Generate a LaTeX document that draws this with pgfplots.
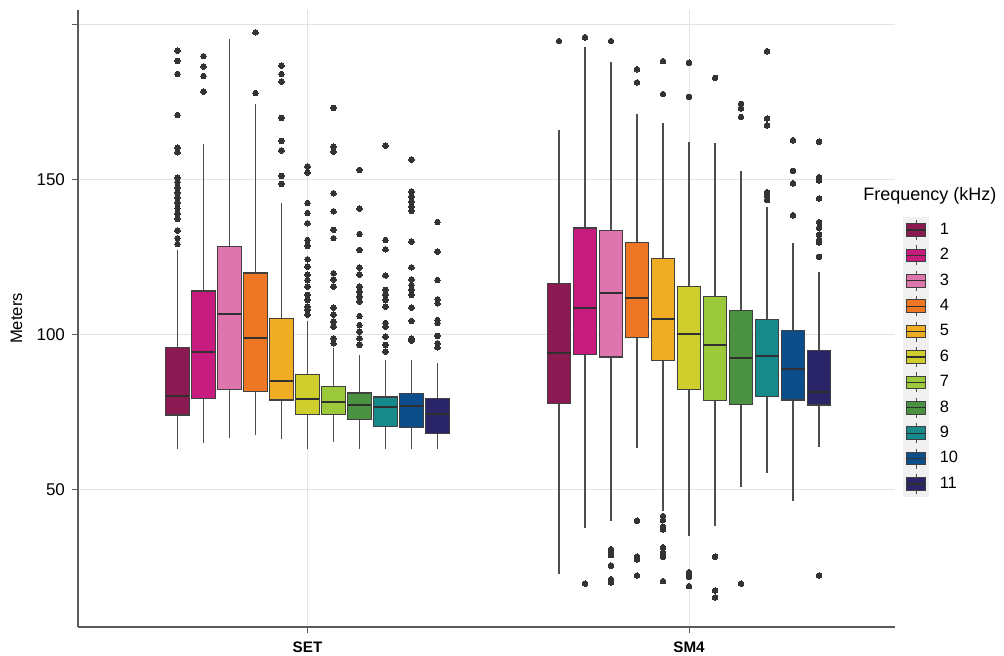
\documentclass[border=0pt]{standalone}
\usepackage{fontspec}
\setmainfont{Liberation Sans}
\usepackage{pgfplots}
\pgfplotsset{compat=1.18}
\definecolor{c1}{HTML}{8C1A52}
\definecolor{c2}{HTML}{C71C7D}
\definecolor{c3}{HTML}{DE75AC}
\definecolor{c4}{HTML}{EE7725}
\definecolor{c5}{HTML}{EEAD22}
\definecolor{c6}{HTML}{CECE2D}
\definecolor{c7}{HTML}{9CC93C}
\definecolor{c8}{HTML}{4A9141}
\definecolor{c9}{HTML}{168A8A}
\definecolor{c10}{HTML}{0C4D8C}
\definecolor{c11}{HTML}{2A2468}
\definecolor{boxedge}{HTML}{404040}
\definecolor{whiskcol}{HTML}{4D4D4D}
\definecolor{medcol}{HTML}{303030}
\definecolor{outl}{HTML}{333333}
\definecolor{gridcol}{HTML}{E3E3E3}
\definecolor{axcol}{HTML}{5A5A5A}
\definecolor{legbg}{HTML}{F0F0F0}
\pgfplotsset{
  boxleg/.style={legend image code/.code={
    \fill[legbg] (-1.5pt,-6.15pt) rectangle (11.2pt,6.15pt);
    \draw[whiskcol, line width=0.4pt] (4.85pt,-5pt) -- (4.85pt,5pt);
    \filldraw[fill=#1, draw=boxedge, line width=0.5pt] (0pt,-3.15pt) rectangle (9.7pt,3.15pt);
    \draw[medcol, line width=0.6pt] (0pt,0pt) -- (9.7pt,0pt);
  }}
}
% box: colour, position, lower whisker, lower quartile, median, upper quartile, upper whisker
\newcommand\bx[7]{%
  \pgfmathsetmacro\xl{#2-0.031}\pgfmathsetmacro\xr{#2+0.031}%
  \edef\tmp{%
    \noexpand\addplot[forget plot, draw=whiskcol, line width=0.6pt] coordinates {(#2,#3) (#2,#4)};
    \noexpand\addplot[forget plot, draw=whiskcol, line width=0.6pt] coordinates {(#2,#6) (#2,#7)};
    \noexpand\addplot[forget plot, draw=boxedge, fill=#1, line width=0.6pt] coordinates {(\xl,#4) (\xr,#4) (\xr,#6) (\xl,#6)} --cycle;
    \noexpand\addplot[forget plot, draw=medcol, line width=1pt] coordinates {(\xl,#5) (\xr,#5)};
  }\tmp}
% outliers: position, values
\newcommand\outl[2]{\addplot[forget plot, only marks, mark=*, mark size=1.4pt, mark options={draw=outl, fill=outl, line width=0pt}] table[row sep=\\, x expr=#1, y index=0] {#2};}
\begin{document}
\begin{tikzpicture}
\useasboundingbox (-39pt,-14.5pt) rectangle (463pt,313.5pt);
\begin{axis}[
  scale only axis, width=408.5pt, height=308.5pt,
  xmin=0.3984, xmax=2.540, ymin=5.81, ymax=204.8,
  axis x line=bottom, axis y line=left,
  axis line style={-, draw=axcol, line width=0.6pt},
  xtick={1,2}, xticklabels={SET,SM4},
  ytick={50,100,150,200}, yticklabels={50,100,150,{}},
  grid=major, grid style={draw=gridcol, line width=0.5pt},
  tick align=outside, major tick length=3pt,
  tick style={draw=axcol, line width=0.5pt},
  /pgf/number format/assume math mode=true,
  y tick label style={font=\fontsize{8.5}{10}\selectfont},
  x tick label style={font=\bfseries\fontsize{7.6}{9}\selectfont, yshift=-1pt},
  ylabel={Meters},
  every axis y label/.style={at={(axis description cs:0,0.5)}, xshift=-30.75pt, rotate=90, anchor=center, font=\fontsize{8.3}{10}\selectfont},
  legend cell align=left,
  legend style={at={(axis description cs:1.0098,0.6639)}, anchor=north west, draw=none, fill=none, inner sep=0pt, outer sep=0pt, row sep=0pt, font=\fontsize{8.2}{9}\selectfont, nodes={inner sep=0pt}, /tikz/every odd column/.append style={column sep=5.3pt}},
]
% SET
\bx{c1}{0.6592}{63.2}{74.2}{80.3}{95.9}{127.5}
\bx{c2}{0.7274}{65.3}{79.5}{94.5}{114.2}{161.5}
\bx{c3}{0.7955}{66.8}{82.5}{106.8}{128.5}{195.5}
\bx{c4}{0.8637}{67.8}{81.8}{99.0}{120.0}{174.4}
\bx{c5}{0.9318}{66.3}{79.0}{85.2}{105.2}{142.5}
\bx{c6}{1.0}{63.2}{74.4}{79.2}{87.2}{104.6}
\bx{c7}{1.0682}{65.5}{74.4}{78.5}{83.3}{95.7}
\bx{c8}{1.1363}{63.2}{72.6}{77.3}{81.3}{93.5}
\bx{c9}{1.2045}{63.2}{70.6}{76.6}{80.0}{91.9}
\bx{c10}{1.2726}{63.2}{70.2}{77.0}{81.0}{91.9}
\bx{c11}{1.3408}{63.2}{68.3}{74.4}{79.4}{91.1}
% SM4
\bx{c1}{1.6592}{22.9}{78.0}{94.3}{116.7}{166.1}
\bx{c2}{1.7274}{37.7}{93.8}{108.8}{134.5}{193.0}
\bx{c3}{1.7955}{40.1}{92.9}{113.4}{133.7}{188.0}
\bx{c4}{1.8637}{63.4}{99.2}{112.0}{129.9}{171.4}
\bx{c5}{1.9318}{43.2}{91.7}{105.2}{124.6}{168.3}
\bx{c6}{2.0}{35.3}{82.3}{100.3}{115.7}{162.3}
\bx{c7}{2.0682}{38.5}{78.9}{96.8}{112.3}{161.8}
\bx{c8}{2.1363}{50.9}{77.6}{92.5}{107.8}{153.0}
\bx{c9}{2.2045}{55.4}{80.2}{93.3}{105.0}{141.2}
\bx{c10}{2.2726}{46.5}{79.0}{89.0}{101.4}{129.6}
\bx{c11}{2.3408}{64.0}{77.4}{81.5}{94.9}{120.4}
% outliers SET
\outl{0.6592}{d\\191.7\\188.4\\184.1\\170.9\\160.4\\158.9\\150.7\\149.3\\147.6\\145.9\\144.2\\142.6\\140.9\\139.1\\137.4\\133.6\\131.2\\129.3\\}
\outl{0.7274}{d\\189.9\\186.6\\183.5\\178.5\\}
\outl{0.8637}{d\\197.6\\178\\}
\outl{0.9318}{d\\186.8\\184.1\\181.7\\170\\162.6\\159.5\\151.3\\148.7\\}
\outl{1.0}{d\\154.3\\152.4\\142.5\\139.3\\136\\130.6\\128.7\\124.4\\122\\119.4\\117.7\\115.6\\112.9\\111.3\\109.1\\108.2\\106.5\\}
\outl{1.0682}{d\\173.2\\160.7\\159.1\\145.7\\139.9\\133.9\\131.2\\119.9\\117.9\\115.6\\108.8\\106.5\\104.3\\102.7\\98.9\\97.3\\}
\outl{1.1363}{d\\153.2\\140.7\\132.5\\127.4\\121.7\\119.4\\115.6\\114\\112.4\\110.8\\106.1\\103.2\\101.1\\98.9\\96.8\\}
\outl{1.2045}{d\\161\\130.6\\127.6\\119.2\\114.5\\112.9\\111.3\\109.1\\103.8\\102.7\\99.5\\96.8\\94.6\\}
\outl{1.2726}{d\\156.5\\146.2\\144.6\\143\\141.4\\140\\130.1\\121.8\\117.9\\116.1\\114.5\\112.9\\108.8\\104.5\\98.9\\98.2\\}
\outl{1.3408}{d\\136.4\\126.9\\117.7\\111.5\\110.2\\104.8\\103.8\\99.7\\97.3\\96\\}
% outliers SM4
\outl{1.6592}{d\\194.8\\}
\outl{1.7274}{d\\196\\19.8\\}
\outl{1.7955}{d\\194.8\\30.9\\29.9\\29\\25.6\\21.2\\20.2\\}
\outl{1.8637}{d\\185.7\\181.4\\40.1\\28.5\\27.6\\22.4\\}
\outl{1.9318}{d\\188.3\\177.7\\41.6\\40.3\\38.2\\37.3\\31.5\\29.8\\28.5\\20.6\\}
\outl{2.0}{d\\187.8\\176.8\\23.5\\22\\19\\}
\outl{2.0682}{d\\182.9\\28.5\\17.6\\15.3\\}
\outl{2.1363}{d\\174.5\\173.1\\170.3\\19.8\\}
\outl{2.2045}{d\\191.5\\169.8\\167.6\\146.0\\144.9\\143.5\\}
\outl{2.2726}{d\\162.8\\152.9\\148.9\\138.6\\}
\outl{2.3408}{d\\162.3\\150.9\\149.8\\144\\136.4\\134.5\\132.3\\130.6\\129.8\\125.2\\22.4\\}
% legend
\addlegendimage{boxleg=c1}\addlegendentry{1}
\addlegendimage{boxleg=c2}\addlegendentry{2}
\addlegendimage{boxleg=c3}\addlegendentry{3}
\addlegendimage{boxleg=c4}\addlegendentry{4}
\addlegendimage{boxleg=c5}\addlegendentry{5}
\addlegendimage{boxleg=c6}\addlegendentry{6}
\addlegendimage{boxleg=c7}\addlegendentry{7}
\addlegendimage{boxleg=c8}\addlegendentry{8}
\addlegendimage{boxleg=c9}\addlegendentry{9}
\addlegendimage{boxleg=c10}\addlegendentry{10}
\addlegendimage{boxleg=c11}\addlegendentry{11}
\end{axis}
\node[anchor=west, inner sep=0pt, font=\fontsize{9}{10}\selectfont] at (392.5pt,215.6pt) {Frequency (kHz)};
\end{tikzpicture}
\end{document}
